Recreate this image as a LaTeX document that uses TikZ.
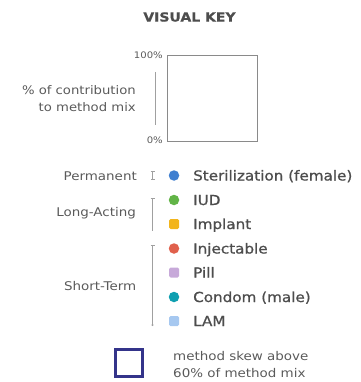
\documentclass[tikz,border=0pt]{standalone}
\usepackage{fontspec}
\setmainfont{DejaVu Sans}[FakeStretch=1.12]
\newfontfamily\keyfont{DejaVu Sans}[FakeStretch=1.12]
\newfontfamily\itemfont{DejaVu Sans}[FakeStretch=1.1,FakeBold=0.9]
\newfontfamily\titlefont{DejaVu Sans}[FakeStretch=1.12,FakeBold=0.6]
\usetikzlibrary{arrows.meta}
\definecolor{txtgray}{HTML}{4D4D4D}
\definecolor{catgray}{HTML}{5A5A5A}
\definecolor{linegray}{HTML}{8A8A8A}
\definecolor{brgray}{HTML}{A0A0A0}
\definecolor{cblue}{HTML}{3F7FD0}
\definecolor{cgreen}{HTML}{62B447}
\definecolor{cyellow}{HTML}{F2B51C}
\definecolor{cred}{HTML}{E0604C}
\definecolor{clav}{HTML}{C7A9D9}
\definecolor{cteal}{HTML}{0F9FB0}
\definecolor{cltblue}{HTML}{A6C8F0}
\definecolor{navy}{HTML}{34348A}
\tikzset{
  title/.style={font=\titlefont\bfseries\fontsize{12.5}{14}\selectfont, text=txtgray, inner sep=0},
  axis/.style={font=\keyfont\fontsize{11.8}{14}\selectfont, text=catgray, inner sep=0, anchor=base east},
  pct/.style={font=\keyfont\fontsize{9}{10}\selectfont, text=catgray, inner sep=0, anchor=east},
  cat/.style={font=\keyfont\fontsize{12}{14}\selectfont, text=catgray, inner sep=0, anchor=base east},
  item/.style={font=\itemfont\fontsize{13.8}{16}\selectfont, text=txtgray, inner sep=0, anchor=base west},
  note/.style={font=\keyfont\fontsize{12}{14}\selectfont, text=catgray, inner sep=0, anchor=base west},
  dot/.style={circle, minimum size=10.5pt, inner sep=0, fill=#1},
  sq/.style={rectangle, rounded corners=1.5pt, minimum size=10pt, inner sep=0, fill=#1},
  bracket/.style={draw=brgray, line width=0.6pt},
}
\begin{document}
\begin{tikzpicture}[x=1pt,y=-1pt]
\useasboundingbox (0,0) rectangle (360,382);
% title
\node[title] (title) at (189.5,17) {VISUAL KEY};
% axis box
\node[draw=linegray, line width=0.9pt, fill=white, minimum width=90pt, minimum height=86.5pt, inner sep=0] (axisbox) at (212.7,98.3) {};
\node[pct] (p100) at (163,55) {100\%};
\node[pct] (p0) at (163,140) {0\%};
\coordinate (vtop) at (155,72);
\coordinate (vbot) at (155,125);
\draw[draw=brgray, line width=0.7pt] (vtop) -- (vbot);
\node[axis] (ax1) at (136,95) {\% of contribution};
\node[axis] (ax2) at (136,112) {to method mix};
% categories
\node[cat] (perm) at (137,180) {Permanent};
\node[cat] (long) at (136,216) {Long-Acting};
\node[cat] (short) at (136.5,290) {Short-Term};
% brackets
\coordinate (b1t) at (152.7,171);
\coordinate (b1b) at (152.7,180);
\coordinate (b2t) at (152.7,198);
\coordinate (b2b) at (152.7,231);
\coordinate (b3t) at (152.5,245);
\coordinate (b3b) at (152.5,326);
\draw[bracket, {Bar[width=4pt]}-{Bar[width=4pt]}] (b1t) -- (b1b);
\draw[bracket, {Bar[width=4pt]}-] (b2t) -- (b2b);
\draw[bracket, {Bar[width=4pt]}-{Circle[length=2pt]}] (b3t) -- (b3b);
% markers
\node[dot=cblue] (m1) at (174,175.5) {};
\node[dot=cgreen] (m2) at (174,200) {};
\node[sq=cyellow] (m3) at (174,224) {};
\node[dot=cred] (m4) at (174,248.5) {};
\node[sq=clav] (m5) at (174,272.5) {};
\node[dot=cteal] (m6) at (174,297) {};
\node[sq=cltblue] (m7) at (174,321) {};
% items
\node[item] (t1) at (193,180.5) {Sterilization (female)};
\node[item] (t2) at (193,205) {IUD};
\node[item] (t3) at (193,229) {Implant};
\node[item] (t4) at (193,253.5) {Injectable};
\node[item] (t5) at (193,277.5) {Pill};
\node[item] (t6) at (193,302) {Condom (male)};
\node[item] (t7) at (193,326) {LAM};
% skew
\node[draw=navy, line width=3pt, minimum size=27pt, inner sep=0] (skew) at (129.3,363) {};
\node[note] (n1) at (173,360) {method skew above};
\node[note] (n2) at (173,377) {60\% of method mix};
\end{tikzpicture}
\end{document}
